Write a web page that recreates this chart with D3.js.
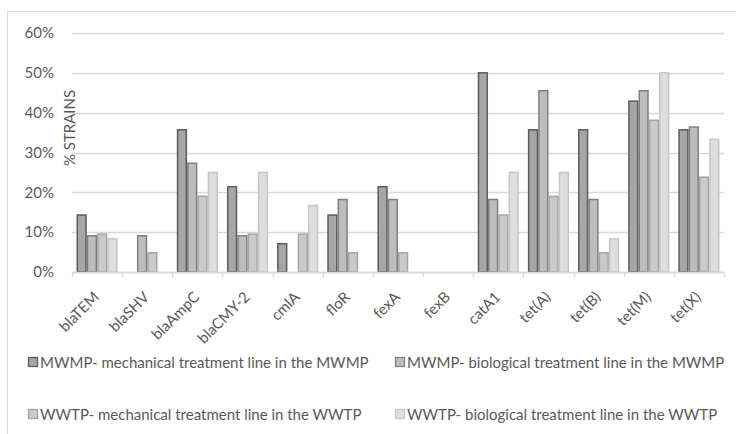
<!DOCTYPE html>
<html>
<head>
<meta charset="utf-8">
<script src="https://cdn.jsdelivr.net/npm/d3@7"></script>
<style>
  html, body { margin: 0; padding: 0; background: #fff; }
  svg { display: block; }
  text { font-family: Lato, "Liberation Sans", sans-serif; fill: #595959; }
</style>
</head>
<body>
<svg id="chart" width="736" height="434"></svg>
<script>
const categories = ["blaTEM","blaSHV","blaAmpC","blaCMY-2","cmlA","floR","fexA","fexB","catA1","tet(A)","tet(B)","tet(M)","tet(X)"];
const seriesNames = [
  "MWMP- mechanical treatment line in the MWMP",
  "MWMP- biological treatment line in the MWMP",
  "WWTP- mechanical treatment line in the WWTP",
  "WWTP- biological treatment line in the WWTP"
];
const mwmpMechanical = [14.3, 0, 35.7, 21.4, 7.1, 14.3, 21.4, 0, 50.0, 35.7, 35.7, 42.9, 35.7];
const mwmpBiological = [9.1, 9.1, 27.3, 9.1, 0, 18.2, 18.2, 0, 18.2, 45.5, 18.2, 45.5, 36.4];
const wwtpMechanical = [9.5, 4.8, 19.0, 9.5, 9.5, 4.8, 4.8, 0, 14.3, 19.0, 4.8, 38.1, 23.8];
const wwtpBiological = [8.3, 0, 25.0, 25.0, 16.7, 0, 0, 0, 25.0, 25.0, 8.3, 50.0, 33.3];
const yTicks = [0, 10, 20, 30, 40, 50, 60];
const yTitle = "% STRAINS";

const seriesValues = [mwmpMechanical, mwmpBiological, wwtpMechanical, wwtpBiological];
const fills = ["#a6a6a6", "#bdbdbd", "#cacaca", "#dedede"];
const strokes = ["#5c5c5c", "#7f7f7f", "#a5a5a5", "#c6c6c6"];

const svg = d3.select("#chart");
const pLeft = 72, pRight = 724, pTop = 33, pBottom = 272;

// chart frame
svg.append("line").attr("x1", 7.5).attr("x2", 7.5).attr("y1", 11).attr("y2", 434).attr("stroke", "#d9d9d9");
svg.append("line").attr("x1", 7).attr("x2", 736).attr("y1", 11.5).attr("y2", 11.5).attr("stroke", "#d9d9d9");

const y = d3.scaleLinear().domain([0, 60]).range([pBottom, pTop]);
const x0 = d3.scaleBand().domain(categories).range([pLeft, pRight]).padding(0);
const x1 = d3.scaleBand().domain(d3.range(4)).range([4.5, x0.bandwidth() - 4.5]).padding(0);

// gridlines
svg.append("g").selectAll("line").data(yTicks).join("line")
  .attr("x1", pLeft).attr("x2", pRight)
  .attr("y1", d => Math.round(y(d)) + 0.5).attr("y2", d => Math.round(y(d)) + 0.5)
  .attr("stroke", "#d9d9d9").attr("stroke-width", 1.3);

// y axis labels
const yAxis = d3.axisLeft(y).tickValues(yTicks).tickFormat(d => d + "%").tickSize(0).tickPadding(0);
const gy = svg.append("g").attr("transform", `translate(54,0)`).call(yAxis);
gy.select(".domain").remove();
gy.selectAll("text").attr("font-size", 15).style("font-family", "Lato, sans-serif").attr("fill", "#595959");

// bars
const groups = svg.append("g").selectAll("g").data(categories).join("g")
  .attr("transform", d => `translate(${x0(d)},0)`);
groups.selectAll("rect").data((d, i) => seriesValues.map((s, k) => ({k, v: s[i]})).filter(e => e.v > 0))
  .join("rect")
  .attr("x", d => x1(d.k) + 0.75)
  .attr("width", x1.bandwidth() - 1.5)
  .attr("y", d => y(d.v))
  .attr("height", d => y(0) - y(d.v))
  .attr("fill", d => fills[d.k])
  .attr("stroke", d => strokes[d.k])
  .attr("stroke-width", 1.5);

// x axis line and ticks
svg.append("line").attr("x1", pLeft).attr("x2", pRight).attr("y1", pBottom + 0.5).attr("y2", pBottom + 0.5).attr("stroke", "#d9d9d9").attr("stroke-width", 1.3);
svg.append("g").selectAll("line").data(d3.range(categories.length + 1)).join("line")
  .attr("x1", i => Math.round(pLeft + i * x0.step()) + 0.5)
  .attr("x2", i => Math.round(pLeft + i * x0.step()) + 0.5)
  .attr("y1", pBottom).attr("y2", pBottom + 5)
  .attr("stroke", "#d9d9d9").attr("stroke-width", 1.3);

// category labels
svg.append("g").selectAll("text").data(categories).join("text")
  .attr("transform", d => `translate(${x0(d) + x0.bandwidth() / 2 + 3},${pBottom + 26}) rotate(-45)`)
  .attr("text-anchor", "end")
  .attr("font-size", 15)
  .text(d => d);

// y title
svg.append("text")
  .attr("transform", `translate(75,128) rotate(-90)`)
  .attr("text-anchor", "middle")
  .attr("font-size", 15)
  .text(yTitle);

// legend
const legendPos = [[28, 368], [395, 368], [28, 420], [395, 420]];
const lg = svg.append("g").selectAll("g").data(seriesNames).join("g")
  .attr("transform", (d, i) => `translate(${legendPos[i][0]},${legendPos[i][1]})`);
lg.append("rect").attr("x", 0.5).attr("y", -10.5).attr("width", 9).attr("height", 9)
  .attr("fill", (d, i) => fills[i]).attr("stroke", (d, i) => strokes[i]).attr("stroke-width", 1.3);
lg.append("text").attr("x", 12).attr("y", 0).attr("font-size", 15).text(d => d);
</script>
</body>
</html>
